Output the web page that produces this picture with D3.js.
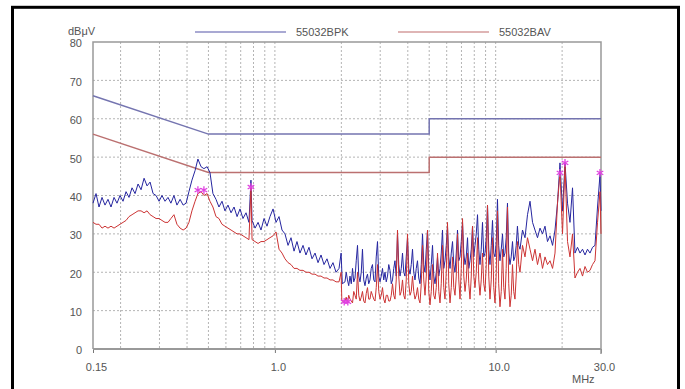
<!DOCTYPE html>
<meta charset="utf-8">
<style>

body {
  margin: 0;
  background: #fff;
}

text {
  font: 11px "Liberation Sans", Arial, sans-serif;
  fill: #555;
}

.grid line {
  stroke: #b4b4b4;
  stroke-dasharray: 2,2;
}

</style>
<svg width="685" height="389"></svg>
<script src="https://d3js.org/d3.v7.min.js"></script>
<script>

// y axis ticks (dBuV) and x axis labels (MHz)
var yTicks = [0, 10, 20, 30, 40, 50, 60, 70, 80];
var xLabels = [0.15, 1, 10, 30];
var xGrid = [0.2, 0.3, 0.4, 0.5, 0.6, 0.7, 0.8, 0.9, 1, 2, 3, 4, 5, 6, 7, 8, 9, 10, 20];

// limit lines
var pkLimit = [[0.15, 66], [0.5, 56], [5, 56], [5, 60], [30, 60]];
var avLimit = [[0.15, 56], [0.5, 46], [5, 46], [5, 50], [30, 50]];

// 55032BPK scan  [MHz, dBuV]
var pkScan = [
  [0.150, 38], [0.1548, 40.5], [0.1597, 37], [0.1648, 39.5], [0.170, 37.5], [0.1754, 39],
  [0.181, 37], [0.1868, 39.5], [0.1927, 38], [0.1988, 40], [0.2052, 38.5], [0.2117, 41],
  [0.2184, 39.5], [0.2254, 42], [0.2326, 40.5], [0.240, 43], [0.2476, 41.5], [0.2555, 44.5],
  [0.2636, 42.5], [0.272, 43.5], [0.2807, 40.5], [0.2896, 40], [0.2988, 38.5], [0.308, 40],
  [0.318, 38.5], [0.328, 39.5], [0.338, 38], [0.349, 40], [0.360, 37.5], [0.372, 39],
  [0.384, 37.5], [0.396, 38], [0.408, 41], [0.421, 44], [0.435, 46.5], [0.448, 49.5],
  [0.463, 47.5], [0.477, 47], [0.493, 47.5], [0.508, 46], [0.524, 40.5], [0.541, 39],
  [0.558, 37], [0.576, 38.5], [0.594, 36], [0.613, 37.5], [0.633, 35.5], [0.653, 37],
  [0.674, 34.5], [0.695, 36.5], [0.717, 34], [0.740, 35.5], [0.763, 33], [0.779, 44],
  [0.788, 33.5], [0.813, 31.5], [0.839, 33], [0.865, 31], [0.893, 34], [0.921, 32],
  [0.950, 34.5], [0.981, 36.5], [1.012, 33], [1.044, 34.5], [1.077, 31], [1.111, 30],
  [1.147, 27], [1.183, 29], [1.221, 25.5], [1.259, 28], [1.299, 25], [1.341, 27],
  [1.383, 24.5], [1.427, 26.5], [1.473, 23.5], [1.520, 25], [1.568, 22.5], [1.618, 24.5],
  [1.669, 22], [1.722, 23.5], [1.777, 21], [1.833, 22.5], [1.892, 20], [1.952, 21],
  [1.995, 25], [2.02, 17],
  [2.077, 17.5], [2.104, 20], [2.132, 18], [2.160, 16.5], [2.189, 19], [2.218, 17],
  [2.247, 21], [2.276, 17.5], [2.306, 18.5], [2.336, 23], [2.367, 27], [2.398, 19],
  [2.429, 17.5], [2.461, 20], [2.493, 26], [2.526, 18], [2.559, 16.5], [2.593, 18.5],
  [2.627, 19.5], [2.661, 17], [2.696, 18], [2.731, 21], [2.767, 22], [2.804, 18],
  [2.841, 17.5], [2.878, 24], [2.916, 28], [2.954, 19], [2.993, 17.5], [3.032, 19],
  [3.072, 21], [3.112, 18], [3.153, 20], [3.194, 17.5], [3.237, 19], [3.279, 22],
  [3.322, 20.5], [3.366, 17], [3.410, 18], [3.454, 21], [3.499, 23], [3.545, 19],
  [3.592, 30], [3.639, 22], [3.687, 19], [3.736, 21], [3.785, 25], [3.834, 20],
  [3.884, 19], [3.935, 24], [3.987, 29], [4.040, 21], [4.093, 19.5], [4.147, 22],
  [4.201, 26], [4.256, 20], [4.311, 18], [4.368, 21], [4.425, 23], [4.484, 18.5],
  [4.543, 17], [4.603, 22], [4.663, 30], [4.724, 22], [4.786, 20], [4.849, 26],
  [4.913, 31], [4.977, 21], [5.042, 18], [5.109, 22], [5.176, 27], [5.244, 19],
  [5.312, 17], [5.382, 20], [5.453, 24], [5.524, 19], [5.596, 21], [5.670, 25],
  [5.744, 31], [5.819, 21], [5.895, 23], [5.973, 27], [6.051, 32], [6.131, 24],
  [6.212, 21], [6.294, 25], [6.377, 28], [6.460, 22], [6.544, 20], [6.630, 25],
  [6.717, 31], [6.806, 23], [6.895, 24], [6.986, 28], [7.078, 33], [7.171, 25],
  [7.264, 22], [7.359, 24], [7.456, 29], [7.554, 21], [7.653, 23], [7.754, 26],
  [7.856, 32], [7.958, 24], [8.062, 27], [8.168, 30], [8.276, 35], [8.384, 26],
  [8.492, 22], [8.604, 26], [8.717, 33], [8.832, 24], [8.948, 25], [9.066, 29],
  [9.185, 37.5], [9.305, 26], [9.426, 22], [9.551, 27], [9.676, 33.5], [9.803, 25],
  [9.931, 24], [10.06, 28], [10.19, 39], [10.32, 27], [10.46, 23], [10.60, 26],
  [10.74, 30], [10.88, 24], [11.02, 25], [11.16, 29], [11.31, 38], [11.46, 25],
  [11.61, 22], [11.76, 24], [11.92, 28], [12.07, 23], [12.23, 24], [12.39, 27],
  [12.55, 32], [12.72, 27], [12.89, 26],
  [13.23, 31], [13.58, 29], [13.94, 35], [14.31, 38.5], [14.69, 33],
  [15.07, 31], [15.47, 29], [15.88, 31.5], [16.30, 30], [16.73, 32], [17.17, 28],
  [17.63, 29.5], [18.10, 27], [18.57, 31], [19.06, 38], [19.56, 48.5], [20.08, 36],
  [20.61, 48.5], [21.16, 38], [21.71, 33], [22.29, 42], [22.87, 25], [23.48, 26.5],
  [24.10, 25], [24.74, 26], [25.39, 24.5], [26.06, 26], [26.75, 25], [27.46, 26.5],
  [28.18, 27], [28.93, 37], [29.69, 45.5], [30, 36]
];

// 55032BAV scan  [MHz, dBuV]
var avScan = [
  [0.150, 33], [0.1548, 32.5], [0.1597, 32.5], [0.1648, 31.5], [0.170, 32], [0.1754, 31.5],
  [0.181, 32], [0.1868, 31.5], [0.1927, 32], [0.1988, 32.5], [0.2052, 33], [0.2117, 33.5],
  [0.2184, 34.5], [0.2254, 35], [0.2326, 35.5], [0.240, 36], [0.2476, 36], [0.2555, 35.5],
  [0.2636, 36], [0.272, 35], [0.2807, 34.5], [0.2896, 34], [0.2988, 34], [0.308, 33.5],
  [0.318, 33], [0.328, 33], [0.338, 34], [0.349, 35], [0.360, 32.5], [0.372, 31.5],
  [0.384, 31], [0.396, 31.5], [0.408, 33], [0.421, 36], [0.435, 38.5], [0.448, 40.5],
  [0.463, 41], [0.477, 40], [0.493, 40.5], [0.508, 38.5], [0.524, 37], [0.541, 34.5],
  [0.558, 34], [0.576, 32.5], [0.594, 32], [0.613, 31.5], [0.633, 31], [0.653, 30.5],
  [0.674, 30], [0.695, 30], [0.717, 29.5], [0.740, 29], [0.763, 28.5], [0.779, 42],
  [0.788, 28.5], [0.813, 28], [0.839, 27.5], [0.865, 28], [0.893, 28], [0.921, 28.5],
  [0.950, 29], [0.981, 29.5], [1.012, 30.5], [1.044, 26], [1.077, 25], [1.111, 23.5],
  [1.147, 22.5], [1.183, 22], [1.221, 21], [1.259, 21], [1.299, 20.5], [1.341, 20.5],
  [1.383, 20], [1.427, 20], [1.473, 19.5], [1.520, 19.5], [1.568, 19], [1.618, 19],
  [1.669, 18.5], [1.722, 18.5], [1.777, 18], [1.833, 18], [1.892, 17.5], [1.952, 17.5],
  [1.995, 20], [2.01, 12.5],
  [2.077, 12.5], [2.104, 13.5], [2.132, 12], [2.160, 14], [2.189, 13], [2.218, 12.5],
  [2.247, 12], [2.276, 15], [2.306, 14], [2.336, 13], [2.367, 20], [2.398, 14],
  [2.429, 12.5], [2.461, 13.5], [2.493, 15], [2.526, 12.5], [2.559, 12], [2.593, 14.5],
  [2.627, 16], [2.661, 13], [2.696, 13], [2.731, 15], [2.767, 14], [2.804, 13],
  [2.841, 12.5], [2.878, 16], [2.916, 22], [2.954, 15], [2.993, 13], [3.032, 14],
  [3.072, 16], [3.112, 13], [3.153, 12], [3.194, 14], [3.237, 14], [3.279, 12.5],
  [3.322, 12.5], [3.366, 14], [3.410, 17], [3.454, 14], [3.499, 13], [3.545, 18],
  [3.592, 31], [3.639, 19], [3.687, 14], [3.736, 15], [3.785, 18], [3.834, 14],
  [3.884, 13], [3.935, 18], [3.987, 30], [4.040, 17], [4.093, 14], [4.147, 15],
  [4.201, 19], [4.256, 15], [4.311, 13], [4.368, 14], [4.425, 16], [4.484, 13],
  [4.543, 12], [4.603, 17], [4.663, 27], [4.724, 18], [4.786, 14], [4.849, 19],
  [4.913, 31], [4.977, 15], [5.042, 11.5], [5.109, 15], [5.176, 22], [5.244, 14],
  [5.312, 13], [5.382, 16], [5.453, 25], [5.524, 15], [5.596, 12], [5.670, 17],
  [5.744, 27], [5.819, 16], [5.895, 13], [5.973, 20], [6.051, 33], [6.131, 17],
  [6.212, 12], [6.294, 16], [6.377, 24], [6.460, 16], [6.544, 14], [6.630, 19],
  [6.717, 30], [6.806, 18], [6.895, 13], [6.986, 21], [7.078, 34], [7.171, 19],
  [7.264, 15], [7.359, 18], [7.456, 25], [7.554, 17], [7.653, 13], [7.754, 19],
  [7.856, 32], [7.958, 19], [8.062, 16], [8.168, 20], [8.276, 29], [8.384, 18],
  [8.492, 14], [8.604, 18], [8.717, 25], [8.832, 17], [8.948, 15], [9.066, 22],
  [9.185, 37.5], [9.305, 19], [9.426, 13], [9.551, 18], [9.676, 29], [9.803, 16],
  [9.931, 12], [10.06, 20], [10.19, 36], [10.32, 17], [10.46, 11], [10.60, 15],
  [10.74, 26], [10.88, 16], [11.02, 13], [11.16, 21], [11.31, 37], [11.46, 17],
  [11.61, 11], [11.76, 14], [11.92, 22], [12.07, 15], [12.23, 13], [12.39, 19],
  [12.55, 28], [12.72, 22], [12.89, 20],
  [13.23, 27], [13.58, 24], [13.94, 29], [14.31, 26], [14.69, 23],
  [15.07, 26], [15.47, 22], [15.88, 25], [16.30, 21], [16.73, 24], [17.17, 22],
  [17.63, 23], [18.10, 21], [18.57, 25], [19.06, 38], [19.56, 46], [20.08, 30],
  [20.61, 48], [21.16, 28], [21.71, 24], [22.29, 30], [22.87, 18.5], [23.48, 20],
  [24.10, 21], [24.74, 19], [25.39, 21.5], [26.06, 20], [26.75, 20.5], [27.46, 22],
  [28.18, 23], [28.93, 33], [29.69, 41], [30, 30]
];

// peak markers  [MHz, dBuV]
var markers = [
  [0.448, 41.4], [0.477, 41.4], [0.779, 42.2], [2.06, 12.3], [2.14, 12.3],
  [19.56, 45.9], [20.61, 48.5], [29.69, 45.9]
];

var svg = d3.select("svg"),
    plotL = 93, plotR = 601, plotT = 42, plotB = 349;

var x = d3.scaleLog().domain([0.15, 30]).range([plotL, plotR]);
var y = d3.scaleLinear().domain([0, 80]).range([plotB, plotT]);

// outer black frame
svg.append("rect")
    .attr("x", 12.5).attr("y", 7.3)
    .attr("width", 666).attr("height", 420)
    .attr("fill", "none").attr("stroke", "#000").attr("stroke-width", 3);

// grid
svg.append("g").attr("class", "grid")
  .selectAll("line").data(yTicks.filter(d => d > 0 && d < 80)).join("line")
    .attr("x1", plotL).attr("x2", plotR)
    .attr("y1", d => y(d)).attr("y2", d => y(d));

svg.append("g").attr("class", "grid")
  .selectAll("line").data(xGrid).join("line")
    .attr("x1", d => x(d)).attr("x2", d => x(d))
    .attr("y1", plotT).attr("y2", plotB);

// y axis
var yAxis = svg.append("g")
    .attr("transform", "translate(" + plotL + ",0)")
    .call(d3.axisLeft(y).tickValues(yTicks).tickSize(0).tickPadding(11));
yAxis.select(".domain").remove();
yAxis.selectAll("text").attr("dy", "0.45em");

// x axis
var xAxis = svg.append("g")
    .attr("transform", "translate(0," + plotB + ")")
    .call(d3.axisBottom(x).tickValues(xLabels).tickSize(4).tickPadding(10)
      .tickFormat(d => d == 0.15 ? "0.15" : d.toFixed(1)));
xAxis.select(".domain").remove();
xAxis.selectAll("line").attr("stroke", "#777");
xAxis.selectAll("text").attr("dx", 3);

// plot frame
svg.append("path")
    .attr("d", "M" + plotL + "," + plotB + "V" + plotT + "H" + plotR + "V" + (plotB + 5))
    .attr("fill", "none").attr("stroke", "#999").attr("stroke-width", 1.5);
svg.append("line")
    .attr("x1", plotL).attr("x2", plotR).attr("y1", plotB).attr("y2", plotB)
    .attr("stroke", "#999").attr("stroke-width", 2);

// titles
svg.append("text").attr("x", 68).attr("y", 35).text("dBμV");
svg.append("text").attr("x", 572).attr("y", 383).text("MHz");

// legend
var legend = [
  {name: "55032BPK", color: "#8c8cc4", x0: 195},
  {name: "55032BAV", color: "#d49c9c", x0: 398}
];
var lg = svg.selectAll(".legend").data(legend).join("g").attr("class", "legend");
lg.append("line")
    .attr("x1", d => d.x0).attr("x2", d => d.x0 + 91)
    .attr("y1", 32).attr("y2", 32)
    .attr("stroke", d => d.color).attr("stroke-width", 1.5);
lg.append("text")
    .attr("x", d => d.x0 + 101).attr("y", 36)
    .text(d => d.name);

var line = d3.line().x(d => x(d[0])).y(d => y(d[1]));

// limits
svg.append("path").datum(pkLimit).attr("d", line)
    .attr("fill", "none").attr("stroke", "#7474b0").attr("stroke-width", 1.5);
svg.append("path").datum(avLimit).attr("d", line)
    .attr("fill", "none").attr("stroke", "#bb7070").attr("stroke-width", 1.5);

// scans
svg.append("path").datum(pkScan).attr("d", line)
    .attr("fill", "none").attr("stroke", "#2626a0").attr("stroke-width", 1);
svg.append("path").datum(avScan).attr("d", line)
    .attr("fill", "none").attr("stroke", "#cc3434").attr("stroke-width", 1);

// markers
var sym = d3.symbol().type(d3.symbolAsterisk).size(40);
svg.append("g").selectAll("path").data(markers).join("path")
    .attr("transform", d => "translate(" + x(d[0]) + "," + y(d[1]) + ")")
    .attr("d", sym)
    .attr("fill", "none").attr("stroke", "#e040e0").attr("stroke-width", 1.3);

</script>
